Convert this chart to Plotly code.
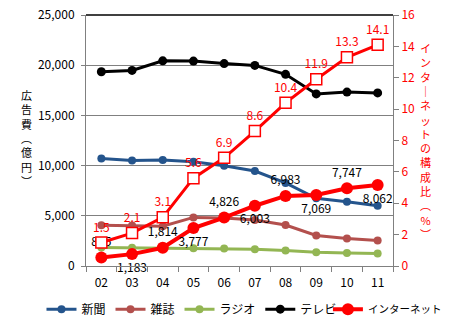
import plotly.graph_objects as go

years = ["02", "03", "04", "05", "06", "07", "08", "09", "10", "11"]
newspaper = [10707, 10500, 10559, 10377, 9986, 9462, 8276, 6739, 6396, 5990]
magazine = [4051, 4035, 3970, 4842, 4777, 4585, 4078, 3034, 2733, 2542]
radio = [1837, 1807, 1795, 1778, 1744, 1671, 1549, 1370, 1299, 1247]
tv = [19351, 19480, 20436, 20411, 20161, 19981, 19092, 17139, 17321, 17237]
internet = [845, 1183, 1814, 3777, 4826, 6003, 6983, 7069, 7747, 8062]
net_share = [1.5, 2.1, 3.1, 5.6, 6.9, 8.6, 10.4, 11.9, 13.3, 14.1]

left_ticks = [0, 5000, 10000, 15000, 20000, 25000]
right_ticks = [0, 2, 4, 6, 8, 10, 12, 14, 16]

FONT = "Noto Sans CJK JP"
C_NEWS = "#24548C"
C_MAG = "#B3504D"
C_RADIO = "#93B653"
C_TV = "#000000"
C_NET = "#FF0000"

fig = go.Figure()

fig.add_trace(go.Scatter(x=years, y=newspaper, name="新聞", mode="lines+markers",
                         line=dict(color=C_NEWS, width=3), marker=dict(size=8, color=C_NEWS)))
fig.add_trace(go.Scatter(x=years, y=magazine, name="雑誌", mode="lines+markers",
                         line=dict(color=C_MAG, width=3), marker=dict(size=8, color=C_MAG)))
fig.add_trace(go.Scatter(x=years, y=radio, name="ラジオ", mode="lines+markers",
                         line=dict(color=C_RADIO, width=3), marker=dict(size=8, color=C_RADIO)))
fig.add_trace(go.Scatter(x=years, y=tv, name="テレビ", mode="lines+markers",
                         line=dict(color=C_TV, width=3), marker=dict(size=9, color=C_TV)))

net_pos = ["top center" if i % 2 == 0 else "bottom center" for i in range(len(years))]
fig.add_trace(go.Scatter(x=years, y=internet, name="インターネット", mode="lines+markers+text",
                         legend="legend2", cliponaxis=False,
                         line=dict(color=C_NET, width=4), marker=dict(size=12, color=C_NET),
                         text=[f"{v:,}" for v in internet], textposition=net_pos,
                         textfont=dict(color="#000000", size=12, family=FONT)))

fig.add_trace(go.Scatter(x=years, y=net_share, name="構成比", yaxis="y2", showlegend=False,
                         mode="lines+markers+text", cliponaxis=False,
                         line=dict(color=C_NET, width=3),
                         marker=dict(symbol="square", size=11, color="#FFFFFF",
                                     line=dict(color=C_NET, width=1.5)),
                         text=[f"{v:.1f}" for v in net_share], textposition="top center",
                         textfont=dict(color=C_NET, size=12, family=FONT)))

legend_common = dict(orientation="h", yanchor="middle", y=-0.172,
                     bgcolor="rgba(0,0,0,0)", itemwidth=30, borderwidth=0)

fig.update_layout(
    width=454, height=329,
    margin=dict(l=86, r=61, t=15, b=63, autoexpand=False),
    paper_bgcolor="white", plot_bgcolor="white",
    font=dict(family=FONT, size=12, color="#000000"),
    xaxis=dict(type="category", range=[-0.5, 9.5], tickson="boundaries",
               ticks="outside", ticklen=5, tickcolor="#808080",
               showline=True, linecolor="#808080", linewidth=1, showgrid=False,
               tickfont=dict(size=12), ticklabelstandoff=6),
    yaxis=dict(range=[0, 25000], tickvals=left_ticks, tickformat=",",
               ticks="outside", ticklen=4, tickcolor="#808080",
               showline=True, linecolor="#808080", linewidth=1,
               showgrid=True, gridcolor="#808080", gridwidth=1, zeroline=False,
               tickfont=dict(size=12), ticklabelstandoff=4),
    yaxis2=dict(range=[0, 16], tickvals=right_ticks, overlaying="y", side="right",
                ticks="outside", ticklen=5, tickcolor="#808080",
                showline=True, linecolor="#808080", linewidth=1,
                showgrid=False, zeroline=False,
                tickfont=dict(size=12, color=C_NET)),
    legend=dict(legend_common, x=-0.145, xanchor="left", font=dict(size=12)),
    legend2=dict(legend_common, x=0.788, xanchor="left", font=dict(size=10.5)),
    showlegend=True,
)

fig.add_shape(type="line", xref="x domain", yref="y domain", x0=0, x1=1, y0=1, y1=1,
              line=dict(color="#000000", width=1.5))

left_title = "<br>".join(list("広告費") + ["︵"] + list("億円") + ["︶"])
right_title = "<br>".join(list("インタ") + ["｜"] + list("ネットの構成比") + ["︵", "%", "︶"])

fig.add_annotation(text=left_title, xref="paper", yref="paper", x=-0.195, y=0.51,
                   xanchor="center", yanchor="middle", showarrow=False,
                   font=dict(size=11, color="#000000", family=FONT))
fig.add_annotation(text=right_title, xref="paper", yref="paper", x=1.105, y=0.5,
                   xanchor="center", yanchor="middle", showarrow=False,
                   font=dict(size=11, color=C_NET, family=FONT))

fig.write_html("out.html")
